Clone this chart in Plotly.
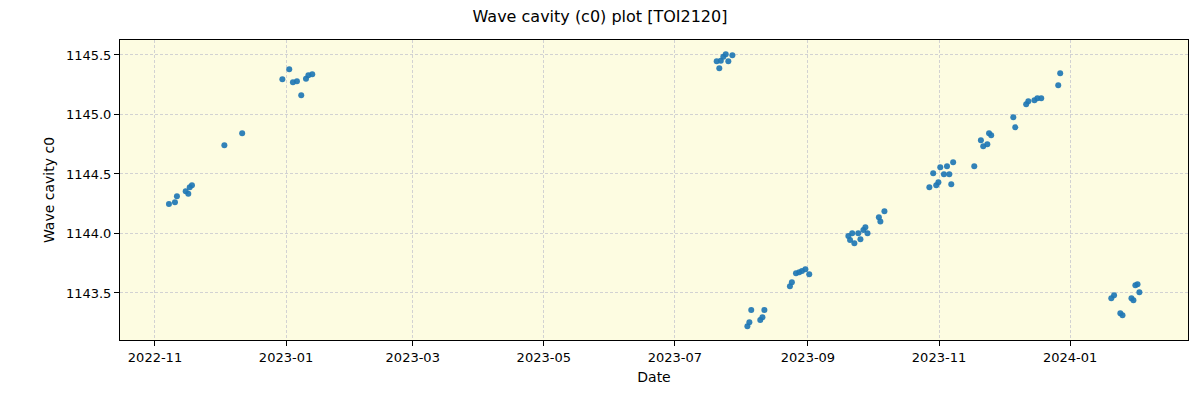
import plotly.graph_objects as go

dates = [
    "2022-11-07 12:00", "2022-11-10 07:00", "2022-11-11 05:00", "2022-11-15 07:00",
    "2022-11-16 12:00", "2022-11-17 04:00", "2022-11-18 05:00",
    "2022-12-03 07:00", "2022-12-11 14:00",
    "2022-12-30 07:00", "2023-01-02 12:00", "2023-01-04 05:00", "2023-01-06 02:00",
    "2023-01-08 02:00", "2023-01-10 07:00", "2023-01-11 10:00", "2023-01-13 05:00",
    "2023-07-20 12:00", "2023-07-21 17:00", "2023-07-22 10:00", "2023-07-23 14:00",
    "2023-07-24 17:00", "2023-07-25 22:00", "2023-07-27 19:00",
    "2023-08-03 19:00", "2023-08-04 17:00", "2023-08-05 14:00", "2023-08-09 19:00",
    "2023-08-10 19:00", "2023-08-11 17:00",
    "2023-08-23 14:00", "2023-08-24 12:00", "2023-08-26 10:00", "2023-08-27 22:00",
    "2023-08-29 05:00", "2023-08-30 19:00", "2023-09-01 14:00",
    "2023-09-19 19:00", "2023-09-20 14:00", "2023-09-21 14:00", "2023-09-22 14:00",
    "2023-09-24 10:00", "2023-09-25 10:00", "2023-09-26 19:00", "2023-09-27 17:00",
    "2023-09-28 17:00", "2023-10-04 00:00", "2023-10-04 17:00", "2023-10-06 14:00",
    "2023-10-27 12:00", "2023-10-29 07:00", "2023-10-30 17:00", "2023-10-31 17:00",
    "2023-11-01 14:00", "2023-11-03 07:00", "2023-11-04 17:00", "2023-11-05 19:00",
    "2023-11-06 17:00", "2023-11-07 14:00", "2023-11-17 10:00", "2023-11-20 12:00",
    "2023-11-21 14:00", "2023-11-23 12:00", "2023-11-24 07:00", "2023-11-25 07:00",
    "2023-12-05 14:00", "2023-12-06 12:00", "2023-12-11 14:00", "2023-12-12 14:00",
    "2023-12-15 10:00", "2023-12-16 19:00", "2023-12-18 14:00", "2023-12-26 12:00",
    "2023-12-27 10:00",
    "2024-01-20 05:00", "2024-01-21 12:00", "2024-01-24 10:00", "2024-01-25 10:00",
    "2024-01-29 14:00", "2024-01-30 12:00", "2024-01-31 10:00", "2024-02-01 10:00",
    "2024-02-02 07:00",
]

c0_values = [
    1144.248, 1144.262, 1144.313, 1144.355,
    1144.334, 1144.388, 1144.405,
    1144.741, 1144.842,
    1145.296, 1145.380, 1145.270, 1145.279,
    1145.161, 1145.300, 1145.330, 1145.338,
    1145.447, 1145.388, 1145.452, 1145.486,
    1145.506, 1145.447, 1145.497,
    1143.220, 1143.254, 1143.357, 1143.273,
    1143.296, 1143.357,
    1143.556, 1143.590, 1143.665, 1143.674,
    1143.685, 1143.699, 1143.657,
    1143.979, 1143.945, 1144.002, 1143.918,
    1144.002, 1143.951, 1144.029, 1144.052,
    1144.002, 1144.136, 1144.100, 1144.187,
    1144.388, 1144.506, 1144.405, 1144.430,
    1144.556, 1144.497, 1144.565, 1144.497,
    1144.413, 1144.598, 1144.565, 1144.783,
    1144.733, 1144.750, 1144.842, 1144.825,
    1144.976, 1144.892, 1145.086, 1145.111,
    1145.119, 1145.136, 1145.136, 1145.245,
    1145.346,
    1143.455, 1143.480, 1143.329, 1143.313,
    1143.455, 1143.439, 1143.565, 1143.573,
    1143.506,
]

x_range = ["2022-10-15 17:00", "2024-02-24 22:00"]
y_range = [1143.105, 1145.626]

title_text = "Wave cavity (c0) plot [TOI2120]"
x_label = "Date"
y_label = "Wave cavity c0"

font_family = "DejaVu Sans"

fig = go.Figure()
fig.add_trace(go.Scatter(
    x=dates, y=c0_values, mode="markers",
    marker=dict(color="#1f77b4", size=6, opacity=0.92, line=dict(width=0)),
    showlegend=False,
))

axis_common = dict(
    showline=True, linecolor="black", linewidth=1, mirror=True,
    ticks="outside", ticklen=5, tickwidth=1, tickcolor="black",
    showgrid=True, gridcolor="#d2d2d2", griddash="3px,2px", gridwidth=1,
    zeroline=False,
    tickfont=dict(family=font_family, size=13, color="black"),
)

fig.update_layout(
    width=1200, height=400,
    margin=dict(l=120, r=12, t=40, b=60),
    paper_bgcolor="white",
    plot_bgcolor="#fdfce1",
    font=dict(family=font_family, color="black"),
    title=dict(text=title_text, x=0.5, xanchor="center", y=0.96, yanchor="middle",
               font=dict(family=font_family, size=16, color="black")),
    xaxis=dict(
        range=x_range, type="date", dtick="M2", tick0="2022-11-01",
        tickformat="%Y-%m",
        title=dict(text=x_label, font=dict(family=font_family, size=14), standoff=8),
        **axis_common,
    ),
    yaxis=dict(
        range=y_range, dtick=0.5, tick0=1143.5, tickformat=".1f",
        title=dict(text=y_label, font=dict(family=font_family, size=14), standoff=8),
        **axis_common,
    ),
)

fig.write_html("out.html")
